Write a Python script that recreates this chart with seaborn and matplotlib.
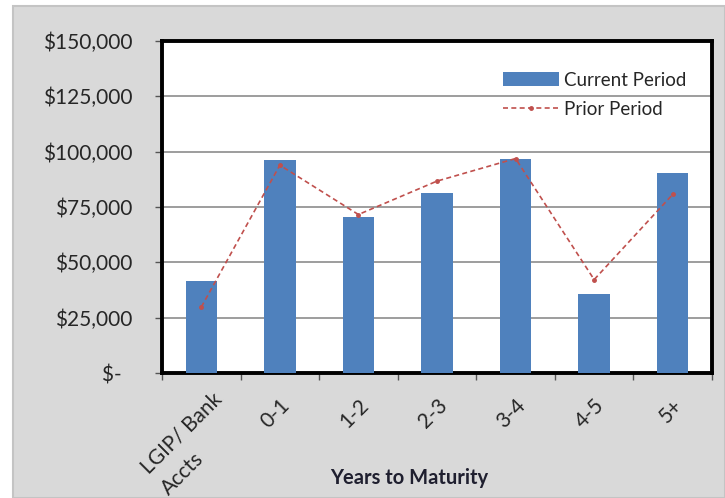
import matplotlib
matplotlib.use("Agg")
import matplotlib.pyplot as plt
from matplotlib.patches import Rectangle
from matplotlib.ticker import FixedLocator
from matplotlib.transforms import ScaledTranslation
import seaborn as sns
import pandas as pd

categories = ["LGIP/ Bank\nAccts", "0-1", "1-2", "2-3", "3-4", "4-5", "5+"]
current_period = [41500, 96200, 70600, 81100, 96900, 35700, 90500]
prior_period = [29800, 93900, 71600, 86700, 96900, 42200, 80700]
y_ticks = [0, 25000, 50000, 75000, 100000, 125000, 150000]
y_tick_labels = ["$-  ", "$25,000", "$50,000", "$75,000", "$100,000", "$125,000", "$150,000"]

sns.set_theme(style="white")
plt.rcParams['font.family'] = ['Lato', 'DejaVu Sans']

df = pd.DataFrame({"cat": categories, "current": current_period, "prior": prior_period})

fig = plt.figure(figsize=(7.25, 4.98), dpi=100)
fig.patch.set_facecolor("white")
fig.patches.append(Rectangle((13 / 725, 0), 1 - 13 / 725, (498 - 6) / 498,
                             transform=fig.transFigure, facecolor="#d9d9d9",
                             edgecolor="#c4c4c4", linewidth=1.5, zorder=-10))

ax = fig.add_axes([162 / 725, (498 - 373) / 498, 550 / 725, 332 / 498])
ax.set_facecolor("white")

sns.barplot(data=df, x="cat", y="current", color="#4f81bd", width=0.4,
            saturation=1, ax=ax, linewidth=0, edgecolor="none", zorder=3)
ax.plot(range(len(categories)), df["prior"], linestyle=(0, (3, 2)), color="#c0504d",
        marker="o", markersize=2.5, linewidth=1.2, zorder=4)

ax.set_ylim(0, 150000)
ax.set_xlim(-0.5, len(categories) - 0.5)
ax.set_yticks(y_ticks)
ax.set_yticklabels(y_tick_labels, fontsize=15, color="#262626")
ax.yaxis.grid(True, color="#8c8c8c", linewidth=1.2, zorder=0)
ax.set_axisbelow(True)

ax.set_xticks(range(len(categories)))
ax.set_xticklabels(categories, rotation=45, ha="right", rotation_mode="anchor",
                   fontsize=15, color="#262626")
ax.xaxis.set_minor_locator(FixedLocator([i - 0.5 for i in range(len(categories) + 1)]))
ax.tick_params(axis="x", which="major", length=0, pad=16)
ax.tick_params(axis="x", which="minor", length=5, width=1, color="#555555", direction="out", bottom=True)
ax.tick_params(axis="y", which="major", length=5, width=1, color="#555555", direction="out", left=True, pad=16)

first = ax.get_xticklabels()[0]
first.set_multialignment("left")
first.set_linespacing(1.6)
first.set_transform(first.get_transform() + ScaledTranslation(10 / 100, 6 / 100, fig.dpi_scale_trans))

for s in ax.spines.values():
    s.set_color("black")
    s.set_linewidth(2.8)

ax.set_ylabel("")
ax.set_xlabel("Years to Maturity", fontsize=14.5, fontweight="bold", color="#1f1f2f")
ax.xaxis.set_label_coords(0.449, -0.285)

bar_handle = Rectangle((0, 0), 1, 1, facecolor="#4f81bd", edgecolor="none")
line_handle = plt.Line2D([], [], linestyle=(0, (3, 2)), color="#c0504d",
                         marker="o", markersize=2.5, linewidth=1.2)
leg = ax.legend([bar_handle, line_handle], ["Current Period", "Prior Period"],
                loc="upper left", bbox_to_anchor=((503 - 162) / 550, 0.907), frameon=False,
                fontsize=13.5, handlelength=3.0, handleheight=0.75, labelspacing=0.65,
                handletextpad=0.27, borderaxespad=0, borderpad=0)
for t in leg.get_texts():
    t.set_color("#262626")

fig.savefig("out.png", dpi=100, facecolor=fig.get_facecolor())
